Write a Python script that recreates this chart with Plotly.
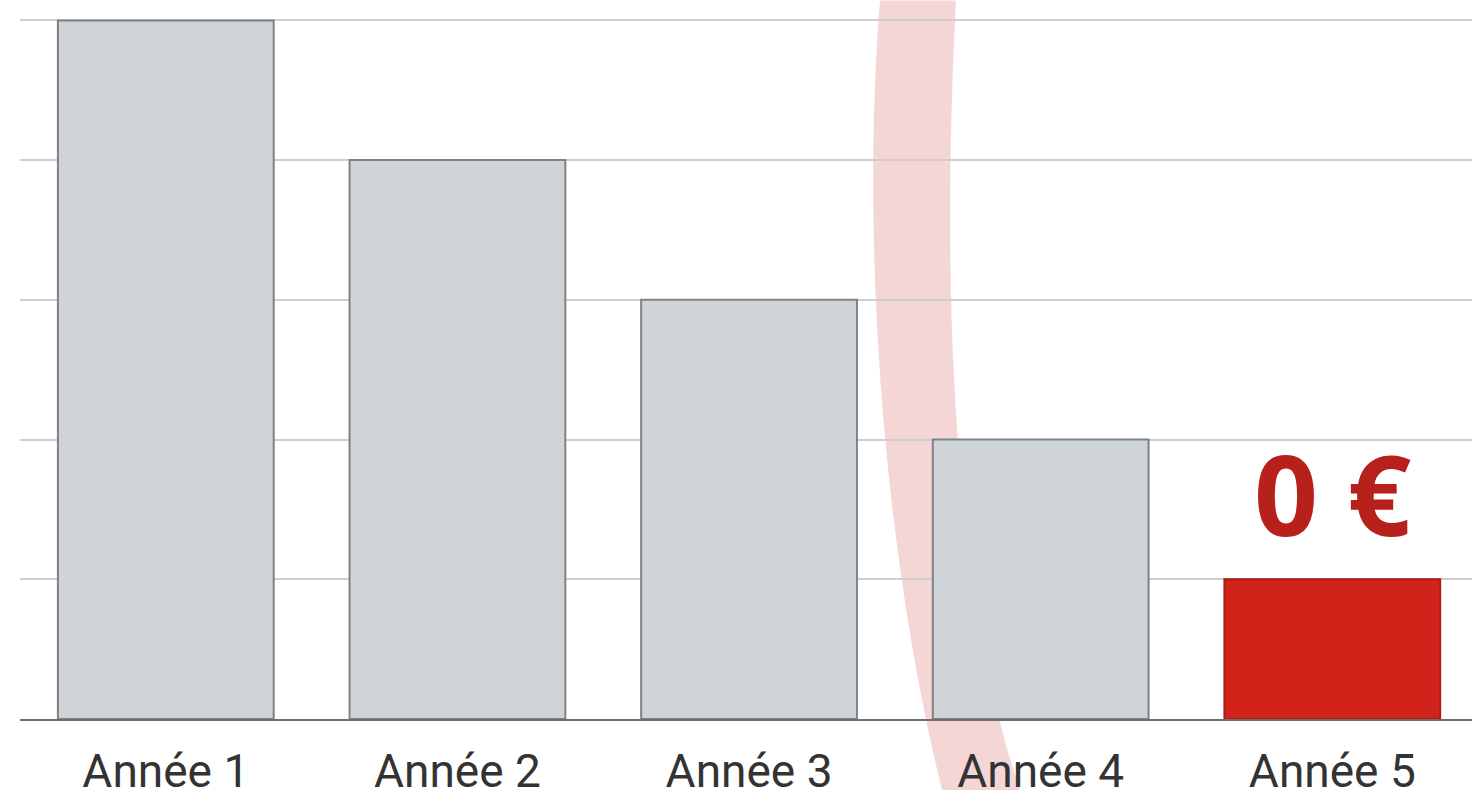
import plotly.graph_objects as go

categories = ["Année 1", "Année 2", "Année 3", "Année 4", "Année 5"]
values = [5, 4, 3, 2, 1]
fill_colors = ["#CFD4D8", "#CFD4D8", "#CFD4D8", "#CFD4D8", "#D2231A"]
line_colors = ["#7E8286", "#7E8286", "#7E8286", "#7E8286", "#A81E16"]
label_text = "0 €"

W, H = 1472, 790
YMAX = 5.01
ML, MR, MB = 20, 0, 71
MT = round((H - MB) - (H - MB - 20) * YMAX / 5, 1)

fig = go.Figure()
fig.add_trace(go.Bar(
    x=categories, y=values,
    width=0.74,
    marker=dict(color=fill_colors, line=dict(color=line_colors, width=2)),
    hoverinfo="skip",
))

# decorative pale red swoosh (pixel -> paper conversion)
pw, ph = W - ML - MR, H - MT - MB
def P(px, py):
    return f"{(px - ML) / pw:.5f},{(H - MB - py) / ph:.5f}"

path = (f"M {P(880, 0)} C {P(860, 250)} {P(885, 560)} {P(942, 790)} "
        f"L {P(1020, 790)} C {P(955, 600)} {P(940, 300)} {P(956, 0)} Z")
fig.add_shape(type="path", path=path, xref="paper", yref="paper",
              fillcolor="rgba(236,180,180,0.55)", line=dict(width=0), layer="below")

fig.add_annotation(x=categories[4], y=values[4], text=label_text, showarrow=False,
                   yanchor="bottom", yshift=8,
                   font=dict(family="Open Sans", size=112, color="#B8201B", weight="bold"))

fig.update_layout(
    width=W, height=H,
    margin=dict(l=ML, r=MR, t=MT, b=MB, autoexpand=False),
    plot_bgcolor="white", paper_bgcolor="white",
    showlegend=False,
    font=dict(family="Roboto", color="#333333"),
)
fig.update_xaxes(range=[-0.5, 4.479], showgrid=False, showline=True, linecolor="#6E6E6E",
                 linewidth=2, ticks="outside", ticklen=11, tickcolor="rgba(0,0,0,0)",
                 automargin=False,
                 tickfont=dict(family="Roboto", size=46, color="#333333"))
fig.update_yaxes(range=[0, YMAX], showgrid=True, gridcolor="#CFCFCF", gridwidth=2,
                 dtick=1, showticklabels=False, zeroline=False, automargin=False)

fig.write_html("out.html", config={"displayModeBar": False},
               post_script="document.body.style.margin='0';document.body.style.overflow='hidden';")
